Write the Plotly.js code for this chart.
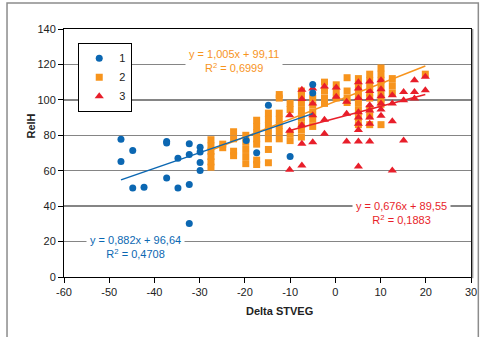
<!DOCTYPE html>
<html>
<head>
<meta charset="utf-8">
<script src="https://cdn.plot.ly/plotly-3.0.1.min.js"></script>
<style>html,body{margin:0;padding:0;background:#fff;}#chart{width:483px;height:337px;}</style>
</head>
<body>
<div id="chart"></div>
<script>
// ---- data ----
const seriesNames = ["1", "2", "3"];

const x1 = [-47.4,-47.4,-44.8,-44.8,-42.3,-37.3,-37.3,-37.3,-34.8,-34.8,-32.3,-32.3,-32.3,-32.3,-29.9,-29.9,-29.9,-29.9,-19.7,-17.4,-14.8,-10.0,-5.0,-5.0];
const y1 = [77.7,65.2,71.4,50.3,50.6,76.5,75.6,55.9,67.1,50.3,75.2,69.2,52.2,30.2,73.3,70.5,64.6,60.1,77.1,70.1,96.9,68.0,108.7,103.9];

const x2 = [
  -27.5,-27.5,-27.5,-27.5,-27.5,-27.5,
  -24.9,-24.9,
  -22.5,-22.5,-22.5,-22.5,
  -19.8,-19.8,-19.8,-19.8,-19.8,
  -17.4,-17.4,-17.4,-17.4,-17.4,-17.4,-17.4,
  -14.8,-14.8,-14.8,-14.8,-14.8,-14.8,-14.8,
  -12.4,-12.4,-12.4,-12.4,-12.4,-12.4,-12.4,
  -10.0,-10.0,-10.0,-10.0,
  -7.5,-7.5,-7.5,-7.5,-7.5,-7.5,-7.5,-7.5,
  -5.0,-5.0,-5.0,-5.0,-5.0,
  -2.4,-2.4,-2.4,-2.4,
  0.2,0.2,0.2,
  2.6,2.6,2.6,2.6,
  5.1,5.1,5.1,5.1,5.1,5.1,5.1,5.1,
  7.6,7.6,7.6,7.6,7.6,7.6,7.6,7.6,
  10.1,10.1,10.1,10.1,10.1,10.1,10.1,10.1,
  12.6,12.6,12.6,
  19.9
];
const y2 = [
  62,65,68,71,74,77.5,
  73,75,
  82,78,71,68.5,
  80,76,72,68,64,
  88.5,85,81.5,78,75,66,63.5,
  92.5,89,85.5,82,78,72,64.5,
  103,101,92.5,89,85.5,82,78,
  98,94.5,81,77,
  105,102.5,98,94,90,86,83,79,
  101,97,93,89,85,
  110,105,101,98,
  108.5,104.5,101,
  112.5,105,101,98.5,
  112,108.5,105,101.5,98,94,90,86,
  114.5,111,107.5,104,101,95,91,86,
  118,114.5,111,107.5,104,100.5,97.5,86,
  112,108,104,
  114.5
];

const x3 = [
  -10.1,-10.1,-10.1,
  -7.4,-7.4,-7.4,-7.4,-7.4,
  -5.0,-5.0,-5.0,-5.0,
  -2.4,-2.4,-2.4,
  0.2,0.2,
  2.5,2.5,2.5,
  5.1,5.1,5.1,5.1,5.1,5.1,5.1,5.1,5.1,
  7.6,7.6,7.6,7.6,7.6,7.6,7.6,7.6,
  10.1,10.1,10.1,10.1,10.1,10.1,
  12.6,12.6,12.6,12.6,
  15.1,15.1,15.1,
  17.5,17.5,17.5,
  19.9,19.9
];
const y3 = [
  91.3,82.5,60.5,
  105.7,100.5,85.6,75.2,62.9,
  106.4,97.9,91.3,76.1,
  107.5,88.8,80.9,
  107,101.7,
  99,92.2,76.5,
  110,106.4,101,93,90,86.5,83,76.5,62.4,
  110.3,105,101,97,94,90,86.5,76.5,
  111,106,102,98,94.5,91,
  102.6,98,87.9,60.1,
  104.5,99.8,77.1,
  111.1,104.5,100.8,
  113,105.4
];

// trendline coefficients as printed on the chart [slope, intercept]
const trend1 = [0.882, 96.64];
const trend2 = [1.005, 99.11];
const trend3 = [0.676, 89.55];
const trendLabels = [
  "y = 0,882x + 96,64<br>R<sup>2</sup> = 0,4708",
  "y = 1,005x + 99,11<br>R<sup>2</sup> = 0,6999",
  "y = 0,676x + 89,55<br>R<sup>2</sup> = 0,1883"
];

const xTickVals = [-60,-50,-40,-30,-20,-10,0,10,20,30];
const xTickText = ["-60","-50","-40","-30","-20","-10","0","10","20","30"];
const yTickVals = [0,20,40,60,80,100,120,140];
const yTickText = ["0","20","40","60","80","100","120","140"];

// ---- styling ----
const BLUE = "#0B67B2", ORANGE = "#F7941D", RED = "#E81E2A";
const FONT = "Liberation Sans, Arial, sans-serif";

function trendTrace(xs, coef, color) {
  const xmin = Math.min(...xs), xmax = Math.max(...xs);
  return {
    x: [xmin, xmax],
    y: [coef[0]*xmin + coef[1], coef[0]*xmax + coef[1]],
    mode: "lines", type: "scatter", showlegend: false, hoverinfo: "skip",
    line: {color: color, width: 1.5}
  };
}

const traces = [
  {x: x2, y: y2, name: seriesNames[1], mode: "markers", type: "scatter",
   marker: {symbol: "square", size: 7, color: ORANGE}},
  {x: x3, y: y3, name: seriesNames[2], mode: "markers", type: "scatter",
   marker: {symbol: "triangle-up", size: 8, color: RED}},
  {x: x1, y: y1, name: seriesNames[0], mode: "markers", type: "scatter",
   marker: {symbol: "circle", size: 7, color: BLUE}},
  trendTrace(x2, trend2, ORANGE),
  trendTrace(x3, trend3, RED),
  trendTrace(x1, trend1, BLUE)
];
// legend order 1,2,3
traces[0].legendrank = 2; traces[1].legendrank = 3; traces[2].legendrank = 1;

const layout = {
  width: 483, height: 337,
  margin: {l: 64, r: 12, t: 29, b: 60, pad: 0},
  paper_bgcolor: "#fff", plot_bgcolor: "#fff",
  font: {family: FONT, size: 11, color: "#222"},
  showlegend: true,
  legend: {x: 0.035, y: 0.945, xanchor: "left", yanchor: "top",
           bgcolor: "#fff", bordercolor: "#000", borderwidth: 1,
           font: {family: FONT, size: 11, color: "#222"}, itemwidth: 30, tracegroupgap: 0},
  xaxis: {range: [-60, 30], tickvals: xTickVals, ticktext: xTickText,
          ticks: "outside", ticklen: 5, tickcolor: "#000", tickwidth: 1,
          showline: true, linecolor: "#000", linewidth: 1, mirror: true,
          showgrid: false, zeroline: false, tickfont: {size: 11, color: "#222"}},
  yaxis: {range: [0, 140], tickvals: yTickVals, ticktext: yTickText,
          ticks: "outside", ticklen: 5, tickcolor: "#000", tickwidth: 1,
          showline: true, linecolor: "#000", linewidth: 1, mirror: true,
          showgrid: true, gridcolor: "#858585", gridwidth: 1.5,
          zeroline: false, tickfont: {size: 11, color: "#222"}},
  annotations: [
    {text: trendLabels[1], x: -22.4, y: 121.9, xref: "x", yref: "y", showarrow: false,
     align: "center", font: {family: FONT, size: 11, color: ORANGE}, bgcolor: "#fff", borderpad: 3},
    {text: trendLabels[0], x: -44.3, y: 17, xref: "x", yref: "y", showarrow: false,
     align: "center", font: {family: FONT, size: 11, color: BLUE}, bgcolor: "#fff", borderpad: 3},
    {text: trendLabels[2], x: 14.6, y: 36, xref: "x", yref: "y", showarrow: false,
     align: "center", font: {family: FONT, size: 11, color: RED}, bgcolor: "#fff", borderpad: 3},
    {text: "<b>RelH</b>", xref: "paper", yref: "paper", x: -0.1, y: 0.608, textangle: -90,
     showarrow: false, font: {family: FONT, size: 11, color: "#222"}},
    {text: "<b>Delta STVEG</b>", xref: "paper", yref: "paper", x: 0.529, y: -0.168,
     showarrow: false, font: {family: FONT, size: 11, color: "#222"}}
  ],
  shapes: [
    {type: "path", xref: "paper", yref: "paper",
     path: "M -0.140 -0.4 L -0.140 1.105 L 1.018 1.105 L 1.018 -0.4",
     line: {color: "#8c8c8c", width: 1.5}},
    {type: "line", xref: "paper", yref: "paper", x0: 1.004, x1: 1.004, y0: -0.005, y1: 1.0,
     line: {color: "#9a9a9a", width: 1.5}}
  ]
};

Plotly.newPlot("chart", traces, layout, {displayModeBar: false, staticPlot: true});
</script>
</body>
</html>
